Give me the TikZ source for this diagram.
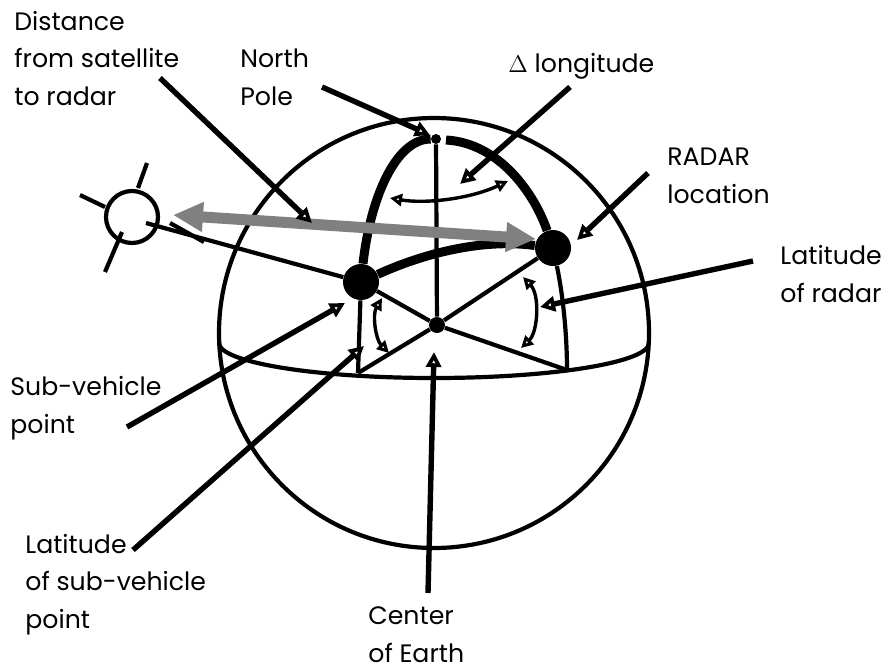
\documentclass[tikz,border=0pt]{standalone}
\usepackage{fontspec}
\setmainfont{Poppins}
\usetikzlibrary{arrows.meta}
\begin{document}
\begin{tikzpicture}[x=0.5pt,y=-0.5pt,
  ln/.style={line width=2.1pt},
  heavy/.style={line width=4.5pt},
  ptr/.style={line width=2.7pt,-{Triangle[open,length=7.5pt,width=7.5pt,fill=white]}},
  dbl/.style={line width=1.7pt,{Triangle[open,length=6pt,width=6pt,fill=white]}-{Triangle[open,length=6pt,width=6pt,fill=white]}},
  lbl/.style={anchor=base west,align=left,inner sep=0pt,font=\fontsize{12.6}{18.75}\selectfont},
  dot/.style={circle,fill=black,inner sep=0pt}
]
\useasboundingbox (0,0) rectangle (895,671);
% sphere and equator
\draw[ln] (434,333) circle [radius=215];
\draw[ln] (219,343) arc [start angle=180,end angle=0,x radius=215,y radius=35];
% points
\node[dot,minimum size=18pt] (sv) at (361,282) {};
\node[dot,minimum size=18pt] (rd) at (553,248) {};
\node[dot,minimum size=8pt] (ce) at (437,325) {};
\node[dot,minimum size=5pt] (np) at (436,139) {};
\coordinate (svf) at (358,373);
\coordinate (rdf) at (567,370);
\coordinate (rms) at (446,140);
% satellite
\node[circle,draw,line width=2.1pt,minimum size=26pt,inner sep=0pt] (sat) at (132,217) {};
\coordinate (satl) at (146,223);
\draw[ln] (138,188) -- (147,163);
\draw[ln] (80,195) -- (105,207);
\draw[ln] (122,232) -- (105,272);
\draw[ln] (170,223) -- (204,242);
\draw[ln] (satl) -- (sv);
% meridians
\draw[heavy] (np) .. controls (395,139) and (370,200) .. (sv);
\draw[heavy] (rms) .. controls (500,143) and (535,195) .. (rd);
\draw[heavy] (sv) .. controls (420,255) and (480,238) .. (rd);
\draw[ln] (sv) -- (svf);
\draw[ln] (rd) .. controls (562,290) and (567,330) .. (rdf);
% radii
\draw[ln] (np) -- (ce);
\draw[ln] (ce) -- (sv);
\draw[ln] (ce) -- (rd);
\draw[ln] (ce) -- (svf);
\draw[ln] (ce) -- (rdf);
% angle arcs
\draw[dbl] (390,198) .. controls (425,204) and (470,199) .. (508,181);
\draw[dbl] (382,298) .. controls (372,315) and (376,340) .. (389,353);
\draw[dbl] (523,277) .. controls (540,295) and (538,332) .. (521,348);
% distance arrow
\coordinate (ga) at (173,215);
\coordinate (gb) at (536,239);
\draw[line width=5.5pt,color=gray,{Triangle[length=15pt,width=14pt]}-{Triangle[length=15pt,width=14pt]}] (ga) -- (gb);
% labels (anchored at the baseline of their last line)
\node[lbl] (l1) at (14,105) {Distance\\from satellite\\to radar};
\node[lbl] (l2) at (240,105) {North\\Pole};
\node[lbl] (l3) at (508,72) {$\Delta$ longitude};
\node[lbl] (l4) at (667,203) {RADAR\\location};
\node[lbl] (l5) at (780,302) {Latitude\\of radar};
\node[lbl] (l6) at (10,433) {Sub-vehicle\\point};
\node[lbl] (l7) at (25,628) {Latitude\\of sub-vehicle\\point};
\node[lbl] (l8) at (368,662) {Center\\of Earth};
% pointers
\coordinate (p1a) at (160,78);  \coordinate (p1b) at (312,223);
\coordinate (p2a) at (322,87);  \coordinate (p2b) at (430,135);
\coordinate (p3a) at (570,87);  \coordinate (p3b) at (460,184);
\coordinate (p4a) at (648,173); \coordinate (p4b) at (577,240);
\coordinate (p5a) at (753,261); \coordinate (p5b) at (540,307);
\coordinate (p6a) at (127,427); \coordinate (p6b) at (345,303);
\coordinate (p7a) at (133,550); \coordinate (p7b) at (364,346);
\coordinate (p8a) at (428,593); \coordinate (p8b) at (434,352);
\draw[ptr] (p1a) -- (p1b);
\draw[ptr] (p2a) -- (p2b);
\draw[ptr] (p3a) -- (p3b);
\draw[ptr] (p4a) -- (p4b);
\draw[ptr] (p5a) -- (p5b);
\draw[ptr] (p6a) -- (p6b);
\draw[ptr] (p7a) -- (p7b);
\draw[ptr] (p8a) -- (p8b);
\end{tikzpicture}
\end{document}
